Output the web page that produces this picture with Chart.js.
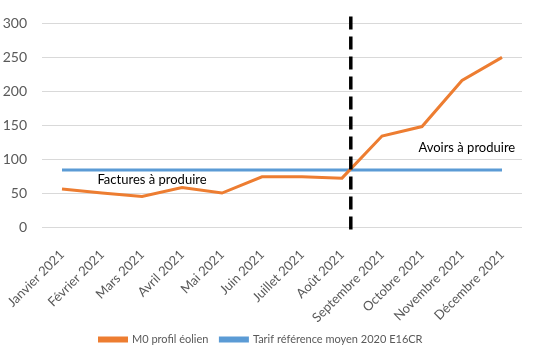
<!DOCTYPE html>
<html>
<head>
<meta charset="utf-8">
<script src="https://cdn.jsdelivr.net/npm/chart.js@4/dist/chart.umd.min.js"></script>
<style>
  html, body { margin: 0; padding: 0; background: #fff; }
  #box { width: 534px; height: 359px; }
</style>
</head>
<body>
<div id="box"><canvas id="myChart"></canvas></div>
<script>
// months on the x axis
const months = ['Janvier 2021', 'Février 2021', 'Mars 2021', 'Avril 2021', 'Mai 2021', 'Juin 2021',
    'Juillet 2021', 'Août 2021', 'Septembre 2021', 'Octobre 2021', 'Novembre 2021', 'Décembre 2021'];

// series
const profilEolien = [56, 50, 45, 58, 50, 74, 74, 72, 134, 148, 216, 250];
const tarifReference = [84, 84, 84, 84, 84, 84, 84, 84, 84, 84, 84, 84];

// y ticks
const yTicks = [0, 50, 100, 150, 200, 250, 300];

const font = 'Lato, "Noto Sans", sans-serif';

// dashed separator and the two text notes
const separator = {
    id: 'separator',
    afterDatasetsDraw(chart) {
        const ctx = chart.ctx;
        const x = chart.scales.x.getPixelForValue(7.22);
        const y = chart.scales.y;
        ctx.save();
        ctx.strokeStyle = '#000';
        ctx.lineWidth = 3.5;
        ctx.setLineDash([13, 7]);
        ctx.beginPath();
        ctx.moveTo(x, y.top - 7);
        ctx.lineTo(x, y.bottom + 6);
        ctx.stroke();
        ctx.restore();

        ctx.save();
        ctx.fillStyle = '#000';
        ctx.font = '13px ' + font;
        ctx.textAlign = 'center';
        ctx.textBaseline = 'middle';
        ctx.fillText('Factures à produire', chart.scales.x.getPixelForValue(2.25), y.getPixelForValue(70));
        ctx.fillText('Avoirs à produire', chart.scales.x.getPixelForValue(10.12), y.getPixelForValue(117));
        ctx.restore();
    }
};

window.onload = function () {
    const chart = new Chart('myChart', {
        type: 'line',
        data: {
            labels: months,
            datasets: [{
                label: 'M0 profil éolien',
                data: profilEolien,
                borderColor: '#ED7D31',
                backgroundColor: '#ED7D31',
                borderWidth: 3,
                pointRadius: 0,
                tension: 0
            }, {
                label: 'Tarif référence moyen 2020 E16CR',
                data: tarifReference,
                borderColor: '#5B9BD5',
                backgroundColor: '#5B9BD5',
                borderWidth: 3,
                pointRadius: 0,
                tension: 0
            }]
        },
        options: {
            responsive: true,
            maintainAspectRatio: false,
            animation: false,
            layout: {
                padding: { top: 14, right: 12, left: 0, bottom: 4 }
            },
            plugins: {
                legend: {
                    position: 'bottom',
                    labels: {
                        boxWidth: 27,
                        boxHeight: 3,
                        color: '#595959',
                        font: { size: 11, family: font },
                        padding: 12
                    }
                },
                tooltip: { enabled: false }
            },
            scales: {
                x: {
                    offset: true,
                    afterFit: (axis) => {
                        axis.height = 95;
                        // rotated labels fit already, no extra side room
                        axis.paddingLeft = 0;
                        axis.paddingRight = 0;
                    },
                    grid: { display: false },
                    border: { display: false },
                    ticks: {
                        minRotation: 45,
                        maxRotation: 45,
                        padding: 12,
                        color: '#595959',
                        font: { size: 13, family: font }
                    }
                },
                y: {
                    min: 0,
                    max: 300,
                    afterBuildTicks: (axis) => {
                        axis.ticks = yTicks.map(v => ({ value: v }));
                    },
                    afterFit: (axis) => {
                        axis.width = 42;
                    },
                    grid: { color: '#d9d9d9', drawTicks: false },
                    border: { display: false },
                    ticks: {
                        color: '#595959',
                        padding: 15,
                        font: { size: 14, family: font }
                    }
                }
            }
        },
        plugins: [separator]
    });
};
</script>
</body>
</html>
